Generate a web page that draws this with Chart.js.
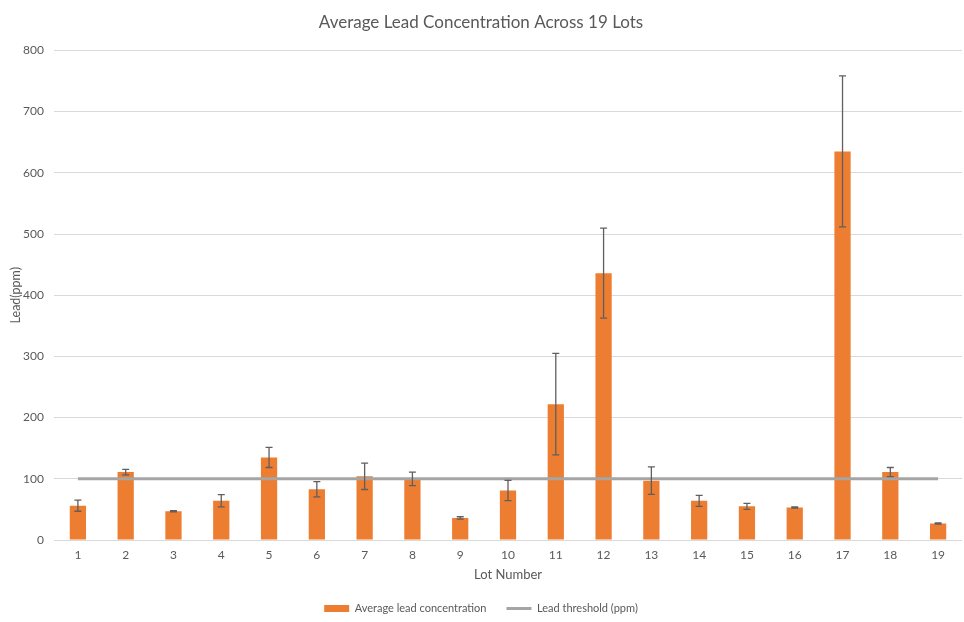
<!DOCTYPE html>
<html>
<head>
<meta charset="utf-8">
<script src="https://cdn.jsdelivr.net/npm/chart.js@4"></script>
<style>
  html, body { margin: 0; padding: 0; background: #fff; }
  #wrap { width: 964px; height: 622px; }
</style>
</head>
<body>
<div id="wrap"><canvas id="lead-chart"></canvas></div>
<script>
const lots = ['1','2','3','4','5','6','7','8','9','10','11','12','13','14','15','16','17','18','19'];
const avgLead = [56, 111, 47, 64, 135, 83, 104, 100, 36, 81, 222, 436, 97, 64, 55, 53, 635, 111, 27];
const leadError = [9, 4.5, 1, 10, 16.5, 12.5, 21.5, 11, 2, 16.5, 83, 73.5, 22.5, 9, 5, 1, 123.5, 7.5, 1];
const threshold = lots.map(() => 100);
const yTicks = [0, 100, 200, 300, 400, 500, 600, 700, 800];

const textColor = '#595959';
const fontFamily = 'Lato, "Open Sans", sans-serif';

// error bars drawn on top of the bars, from the bar dataset's own elements
const errorBars = {
  id: 'errorBars',
  afterDatasetsDraw(chart) {
    const meta = chart.getDatasetMeta(0);
    const y = chart.scales.y;
    const ctx = chart.ctx;
    ctx.save();
    ctx.strokeStyle = '#5f5f5f';
    ctx.lineWidth = 1.3;
    meta.data.forEach((bar, i) => {
      const top = y.getPixelForValue(avgLead[i] + leadError[i]);
      const bottom = y.getPixelForValue(avgLead[i] - leadError[i]);
      ctx.beginPath();
      ctx.moveTo(bar.x, top);
      ctx.lineTo(bar.x, bottom);
      ctx.moveTo(bar.x - 3.5, top);
      ctx.lineTo(bar.x + 3.5, top);
      ctx.moveTo(bar.x - 3.5, bottom);
      ctx.lineTo(bar.x + 3.5, bottom);
      ctx.stroke();
    });
    ctx.restore();
  }
};

new Chart(document.querySelector('#lead-chart').getContext('2d'), {
  type: 'bar',
  data: {
    labels: lots,
    datasets: [{
      type: 'bar',
      label: 'Average lead concentration',
      data: avgLead,
      backgroundColor: '#ED7D31',
      borderWidth: 0,
      barPercentage: 0.34,
      categoryPercentage: 1,
      order: 2
    }, {
      type: 'line',
      label: 'Lead threshold (ppm)',
      data: threshold,
      borderColor: '#A5A5A5',
      backgroundColor: '#A5A5A5',
      borderWidth: 3,
      pointRadius: 0,
      order: 1
    }]
  },
  options: {
    responsive: true,
    maintainAspectRatio: false,
    animation: false,
    layout: { padding: { left: 0, right: 2, top: 8, bottom: -2 } },
    plugins: {
      title: {
        display: true,
        text: 'Average Lead Concentration Across 19 Lots',
        color: textColor,
        font: { family: fontFamily, size: 17, weight: 'normal' },
        padding: { top: 4, bottom: 18 }
      },
      legend: {
        position: 'bottom',
        labels: {
          color: textColor,
          font: { family: fontFamily, size: 11 },
          usePointStyle: true,
          pointStyleWidth: 25,
          boxHeight: 7,
          padding: 20,
          sort: (a, b) => a.datasetIndex - b.datasetIndex,
          generateLabels: chart => Chart.defaults.plugins.legend.labels.generateLabels(chart).map(item => ({
            ...item,
            pointStyle: item.datasetIndex === 0 ? 'rect' : 'line',
            lineWidth: item.datasetIndex === 0 ? 0 : 3
          }))
        }
      },
      tooltip: { enabled: false }
    },
    scales: {
      x: {
        offset: true,
        grid: { display: false },
        border: { display: false },
        ticks: { color: textColor, font: { family: fontFamily, size: 12 }, padding: 0 },
        title: {
          display: true,
          text: 'Lot Number',
          color: textColor,
          font: { family: fontFamily, size: 13 },
          padding: { top: 5, bottom: 0 }
        }
      },
      y: {
        min: 0,
        max: 800,
        afterBuildTicks: scale => { scale.ticks = yTicks.map(v => ({ value: v })); },
        afterFit: scale => { scale.width = 54; },
        grid: { color: '#D9D9D9', lineWidth: 1, drawTicks: false },
        border: { display: false },
        ticks: { color: textColor, font: { family: fontFamily, size: 12 }, padding: 10 },
        title: {
          display: true,
          text: 'Lead(ppm)',
          color: textColor,
          font: { family: fontFamily, size: 12.5 },
          padding: { top: 8, bottom: 4 }
        }
      }
    }
  },
  plugins: [errorBars]
});
</script>
</body>
</html>
